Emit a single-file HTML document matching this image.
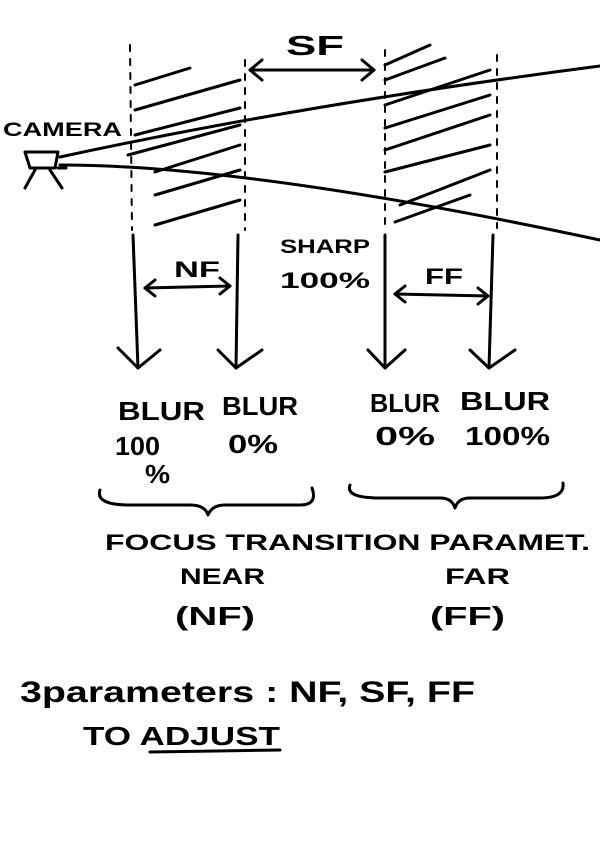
<!DOCTYPE html>
<html><head><style>
html,body{margin:0;padding:0;background:#fff;}
svg{display:block;}
text{font-family:"Liberation Sans",sans-serif;fill:#000;}
</style></head><body>
<svg width="600" height="849" viewBox="0 0 600 849" xmlns="http://www.w3.org/2000/svg">
<g stroke="#000" fill="none" stroke-linecap="round" stroke-linejoin="round">
<g stroke-width="2" stroke-dasharray="6,8">
<line x1="130" y1="45" x2="132" y2="230"/>
<line x1="245" y1="60" x2="245" y2="230"/>
<line x1="385" y1="50" x2="385" y2="228"/>
<line x1="497" y1="55" x2="497" y2="228"/>
</g>
<g stroke-width="3">
<line x1="135" y1="85" x2="190" y2="68"/>
<line x1="135" y1="110" x2="240" y2="80"/>
<line x1="135" y1="135" x2="240" y2="108"/>
<line x1="128" y1="155" x2="240" y2="125"/>
<line x1="155" y1="172" x2="240" y2="145"/>
<line x1="155" y1="195" x2="240" y2="170"/>
<line x1="155" y1="225" x2="240" y2="200"/>
<line x1="385" y1="65" x2="430" y2="45"/>
<line x1="385" y1="80" x2="445" y2="58"/>
<line x1="385" y1="105" x2="490" y2="70"/>
<line x1="385" y1="128" x2="490" y2="95"/>
<line x1="385" y1="150" x2="490" y2="115"/>
<line x1="385" y1="172" x2="490" y2="145"/>
<line x1="400" y1="205" x2="490" y2="170"/>
<line x1="395" y1="222" x2="470" y2="195"/>
</g>
<g stroke-width="3">
<path d="M25 152 L58 152 L55 168 L30 168 Z"/>
<line x1="58" y1="168" x2="66" y2="168"/>
<line x1="35" y1="170" x2="25" y2="188"/>
<line x1="50" y1="170" x2="62" y2="188"/>
<path d="M60 157 Q300 105 600 66"/>
<path d="M60 165 Q250 165 600 240"/>
</g>
<g stroke-width="3">
<line x1="250" y1="70" x2="374" y2="70"/>
<path d="M262 60 L250 70 L262 80"/>
<path d="M362 60 L374 70 L362 80"/>
</g>
<g stroke-width="3">
<path d="M133 235 L138 368"/><path d="M118 348 L138 368 L160 350"/>
<path d="M238 235 L236 368"/><path d="M218 350 L236 368 L262 350"/>
<path d="M385 235 L385 368"/><path d="M368 350 L385 368 L405 350"/>
<path d="M493 235 L489 368"/><path d="M470 350 L489 368 L515 350"/>
</g>
<g stroke-width="3">
<line x1="145" y1="288" x2="230" y2="286"/>
<path d="M155 280 L145 288 L155 296"/><path d="M220 278 L230 286 L220 294"/>
<line x1="395" y1="294" x2="488" y2="296"/>
<path d="M405 286 L395 294 L405 302"/><path d="M478 288 L488 296 L478 304"/>
</g>
<g stroke-width="3">
<path d="M100 490 Q95 505 130 505 L190 505 Q205 505 208 515 Q212 505 225 505 L300 505 Q318 505 312 488"/>
<path d="M350 485 Q345 498 380 498 L440 498 Q452 498 455 508 Q458 498 470 498 L540 498 Q565 498 563 483"/>
</g>
<line x1="150" y1="752" x2="280" y2="750" stroke-width="3"/>
</g>
<g font-weight="bold" lengthAdjust="spacingAndGlyphs">
<text x="3" y="136" font-size="19" textLength="119" lengthAdjust="spacingAndGlyphs">CAMERA</text>
<text x="286" y="55" font-size="28" textLength="58" lengthAdjust="spacingAndGlyphs">SF</text>
<text x="174" y="277" font-size="22" textLength="46" lengthAdjust="spacingAndGlyphs">NF</text>
<text x="280" y="253" font-size="19" textLength="90" lengthAdjust="spacingAndGlyphs">SHARP</text>
<text x="280" y="288" font-size="22" textLength="90" lengthAdjust="spacingAndGlyphs">100%</text>
<text x="425" y="284" font-size="22" textLength="38" lengthAdjust="spacingAndGlyphs">FF</text>
<text x="118" y="420" font-size="26" textLength="87" lengthAdjust="spacingAndGlyphs">BLUR</text>
<text x="222" y="415" font-size="26" textLength="76" lengthAdjust="spacingAndGlyphs">BLUR</text>
<text x="115" y="455" font-size="26" textLength="45" lengthAdjust="spacingAndGlyphs">100</text>
<text x="145" y="483" font-size="26" textLength="25" lengthAdjust="spacingAndGlyphs">%</text>
<text x="228" y="453" font-size="26" textLength="50" lengthAdjust="spacingAndGlyphs">0%</text>
<text x="370" y="412" font-size="26" textLength="70" lengthAdjust="spacingAndGlyphs">BLUR</text>
<text x="460" y="410" font-size="26" textLength="90" lengthAdjust="spacingAndGlyphs">BLUR</text>
<text x="375" y="445" font-size="26" textLength="60" lengthAdjust="spacingAndGlyphs">0%</text>
<text x="465" y="445" font-size="26" textLength="85" lengthAdjust="spacingAndGlyphs">100%</text>
<text x="105" y="550" font-size="22" textLength="485" lengthAdjust="spacingAndGlyphs">FOCUS TRANSITION PARAMET.</text>
<text x="180" y="584" font-size="22" textLength="85" lengthAdjust="spacingAndGlyphs">NEAR</text>
<text x="175" y="625" font-size="26" textLength="80" lengthAdjust="spacingAndGlyphs">(NF)</text>
<text x="445" y="584" font-size="22" textLength="65" lengthAdjust="spacingAndGlyphs">FAR</text>
<text x="430" y="625" font-size="26" textLength="75" lengthAdjust="spacingAndGlyphs">(FF)</text>
<text x="20" y="702" font-size="30" textLength="455" lengthAdjust="spacingAndGlyphs">3parameters : NF, SF, FF</text>
<text x="83" y="745" font-size="26" textLength="197" lengthAdjust="spacingAndGlyphs">TO ADJUST</text>
</g>
</svg>
</body></html>
